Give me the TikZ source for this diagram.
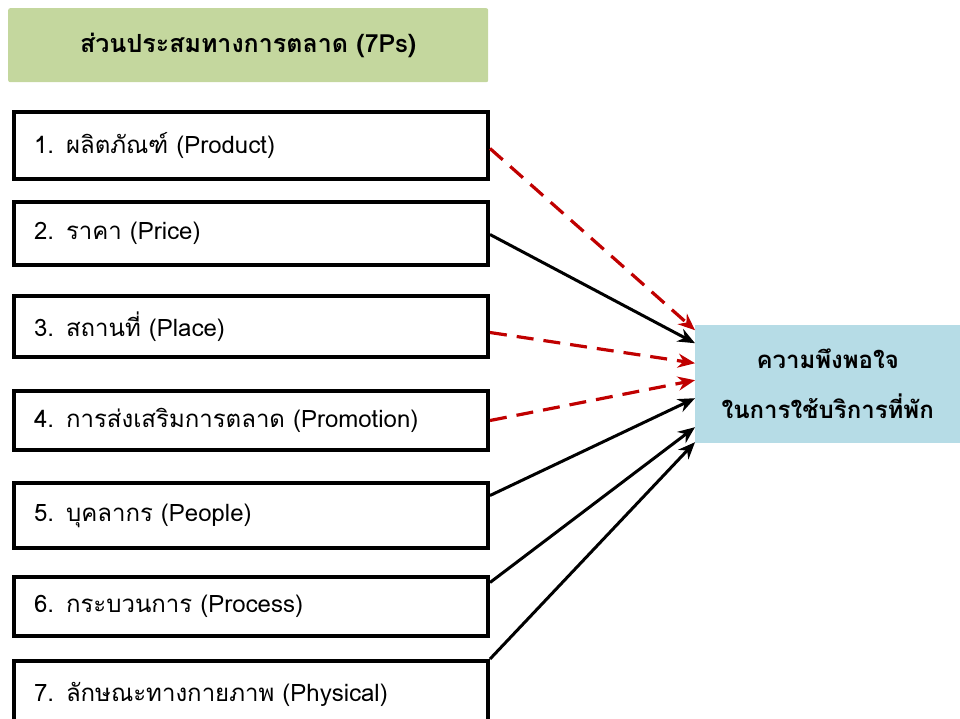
\documentclass[tikz,border=0pt]{standalone}
\usepackage{fontspec}
\setmainfont[Script=Thai]{Loma}
\usetikzlibrary{arrows.meta,calc}
\definecolor{titlegreen}{RGB}{196,215,158}
\definecolor{targetblue}{RGB}{182,220,230}
\definecolor{darkred}{RGB}{192,0,0}
\begin{document}
\begin{tikzpicture}[x=1pt,y=-1pt,
  itembox/.style={draw=black, line width=4pt, fill=white, anchor=north west,
    minimum width=474pt, text width=434pt, inner xsep=19pt, align=left,
    font=\fontsize{24}{28}\selectfont},
  solidarrow/.style={line width=3pt, -{Stealth[length=17pt,width=14pt]}, black},
  dasharrow/.style={line width=3.2pt, -{Stealth[length=17pt,width=14pt]}, darkred,
    dash pattern=on 17pt off 10pt}]
\useasboundingbox (0,0) rectangle (960,718);
\node[fill=titlegreen, rounded corners=2pt, anchor=north west, minimum width=480pt,
  minimum height=74pt, font=\bfseries\fontsize{25}{29}\selectfont] (title) at (8,8)
  {ส่วนประสมทางการตลาด (7Ps)};
\node[itembox, minimum height=67pt] (b1) at (12,110) {1. ผลิตภัณฑ์ (Product)};
\node[itembox, minimum height=63pt] (b2) at (12,200) {2. ราคา (Price)};
\node[itembox, minimum height=61pt] (b3) at (12,294) {3. สถานที่ (Place)};
\node[itembox, minimum height=59pt] (b4) at (12,389) {4. การส่งเสริมการตลาด (Promotion)};
\node[itembox, minimum height=65pt] (b5) at (12,481) {5. บุคลากร (People)};
\node[itembox, minimum height=59pt] (b6) at (12,575) {6. กระบวนการ (Process)};
\node[itembox, minimum height=67pt] (b7) at (12,659) {7. ลักษณะทางกายภาพ (Physical)};
\node[fill=targetblue, anchor=north west, minimum width=265pt, minimum height=118pt,
  align=center, font=\bfseries\fontsize{24}{50}\selectfont] (t) at (695,325)
  {ความพึงพอใจ\\ในการใช้บริการที่พัก};
\draw[dasharrow] ([yshift=-3pt]b1.east) -- ([yshift=54pt]t.west);
\draw[solidarrow] ([yshift=-1pt]b2.east) -- ([yshift=41pt]t.west);
\draw[dasharrow] ([yshift=-6pt]b3.east) -- ([yshift=21pt]t.west);
\draw[dasharrow] ([yshift=0pt]b4.east) -- ([yshift=4pt]t.west);
\draw[solidarrow] ([yshift=20pt]b5.east) -- ([yshift=-14pt]t.west);
\draw[solidarrow] ([yshift=24pt]b6.east) -- ([yshift=-43pt]t.west);
\draw[solidarrow] (b7.north east) -- ([yshift=-58pt]t.west);
\end{tikzpicture}
\end{document}
